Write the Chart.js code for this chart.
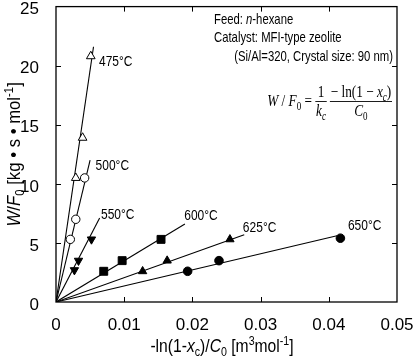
<!DOCTYPE html>
<html><head><meta charset="utf-8">
<script src="https://cdn.jsdelivr.net/npm/chart.js@4.4.1/dist/chart.umd.min.js"></script>
<style>html,body{margin:0;padding:0;background:#fff}#wrap{width:414px;height:360px}</style>
</head><body><div id="wrap"><canvas id="c" width="414" height="360"></canvas></div>
<script>
// ---- data ----
const temperatures = ['475°C', '500°C', '550°C', '600°C', '625°C', '650°C'];
const x475 = [0.0029, 0.0039, 0.0051];
const y475 = [10.5, 13.9, 20.8];
const x500 = [0.0021, 0.0029, 0.0042];
const y500 = [5.3, 7.0, 10.5];
const x550 = [0.0027, 0.0033, 0.0052];
const y550 = [2.7, 3.5, 5.3];
const x600 = [0.0070, 0.0097, 0.0154];
const y600 = [2.6, 3.5, 5.3];
const x625 = [0.0127, 0.0163, 0.0255];
const y625 = [2.6, 3.5, 5.3];
const x650 = [0.0193, 0.0239, 0.0417];
const y650 = [2.6, 3.5, 5.4];
// fitted lines through the origin: end points
const fitEndX = [0.0055, 0.0050, 0.0064, 0.0189, 0.0276, 0.0412];
const fitEndY = [21.6, 12.0, 7.1, 6.6, 5.7, 5.6];
const xTicks = [0, 0.01, 0.02, 0.03, 0.04, 0.05];
const yTicks = [0, 5, 10, 15, 20, 25];

// ---- presentation ----
const seriesX = [x475, x500, x550, x600, x625, x650];
const seriesY = [y475, y500, y550, y600, y625, y650];
const markerStyle = [
  {pointStyle: 'triangle', radius: 5.0, fill: '#fff', rot: 0},
  {pointStyle: 'circle', radius: 4.2, fill: '#fff', rot: 0},
  {pointStyle: 'triangle', radius: 4.8, fill: '#000', rot: 180},
  {pointStyle: 'rect', radius: 5.6, fill: '#000', rot: 0},
  {pointStyle: 'triangle', radius: 4.8, fill: '#000', rot: 0},
  {pointStyle: 'circle', radius: 4.3, fill: '#000', rot: 0}
];
// label anchors (data units): left edge, vertical middle
const labelAnchorX = [0.0063, 0.0058, 0.0066, 0.0188, 0.0274, 0.0428];
const labelAnchorY = [20.4, 11.6, 7.5, 7.4, 6.4, 6.6];

const SANS = '"Liberation Sans", Arial, sans-serif';
const SERIF = '"Liberation Serif", "Times New Roman", serif';

const datasets = [];
temperatures.forEach((t, i) => {
  datasets.push({
    label: t + ' fit',
    data: [{x: 0, y: 0}, {x: fitEndX[i], y: fitEndY[i]}],
    showLine: true, pointRadius: 0, borderColor: '#000', borderWidth: 1.1,
    order: 2
  });
  const m = markerStyle[i];
  datasets.push({
    label: t,
    data: seriesX[i].map((v, k) => ({x: v, y: seriesY[i][k]})),
    showLine: false,
    pointStyle: m.pointStyle, pointRadius: m.radius, pointRotation: m.rot,
    pointBackgroundColor: m.fill, pointBorderColor: '#000', pointBorderWidth: 1,
    order: 1
  });
});

function drawRich(ctx, segs, x, y, size, family, align, measureOnly) {
  const parts = segs.map(s => {
    const fs = (s.sub || s.sup) ? size * 0.68 : size;
    const font = (s.it ? 'italic ' : '') + fs + 'px ' + (s.fam || family);
    ctx.font = font;
    return {s, font, w: ctx.measureText(s.t).width + (s.gap || 0)};
  });
  const total = parts.reduce((a, p) => a + p.w, 0);
  if (measureOnly) return total;
  let cx = align === 'center' ? x - total / 2 : (align === 'right' ? x - total : x);
  ctx.textAlign = 'left';
  ctx.textBaseline = 'alphabetic';
  parts.forEach(p => {
    ctx.font = p.font;
    let dy = 0;
    if (p.s.sub) dy = size * 0.22;
    if (p.s.sup) dy = -size * 0.38;
    ctx.fillText(p.s.t, cx, y + dy);
    cx += p.w;
  });
  return total;
}
// condensed text: draws segments horizontally scaled, anchored at x
function drawNarrow(ctx, segs, x, y, size, family, align, scale) {
  const w = drawRich(ctx, segs, 0, 0, size, family, 'left', true) * scale;
  let left = align === 'center' ? x - w / 2 : (align === 'right' ? x - w : x);
  ctx.save();
  ctx.translate(left, y);
  ctx.scale(scale, 1);
  drawRich(ctx, segs, 0, 0, size, family, 'left');
  ctx.restore();
  return w;
}

const decor = {
  id: 'decor',
  afterDraw(chart) {
    const {ctx, chartArea: a, scales} = chart;
    const sx = scales.x, sy = scales.y;
    ctx.save();
    ctx.strokeStyle = '#000';
    ctx.fillStyle = '#000';
    ctx.lineWidth = 1.3;
    ctx.strokeRect(a.left, a.top, a.right - a.left, a.bottom - a.top);
    ctx.lineWidth = 1;
    const tl = 5;
    xTicks.slice(1, -1).forEach(v => {
      const px = Math.round(sx.getPixelForValue(v)) + 0.5;
      ctx.beginPath();
      ctx.moveTo(px, a.bottom); ctx.lineTo(px, a.bottom - tl);
      ctx.moveTo(px, a.top); ctx.lineTo(px, a.top + tl);
      ctx.stroke();
    });
    yTicks.slice(1, -1).forEach(v => {
      const py = Math.round(sy.getPixelForValue(v)) + 0.5;
      ctx.beginPath();
      ctx.moveTo(a.left, py); ctx.lineTo(a.left + tl, py);
      ctx.moveTo(a.right, py); ctx.lineTo(a.right - tl, py);
      ctx.stroke();
    });
    // temperature labels
    temperatures.forEach((t, i) => {
      drawNarrow(ctx, [{t}], sx.getPixelForValue(labelAnchorX[i]),
        sy.getPixelForValue(labelAnchorY[i]) + 5.5, 15, SANS, 'left', 0.8);
    });
    // axis titles
    drawNarrow(ctx, [
      {t: '-ln(1-'}, {t: 'x', it: true}, {t: 'c', sub: true}, {t: ')/'},
      {t: 'C', it: true}, {t: '0', sub: true}, {t: ' [m'}, {t: '3', sup: true},
      {t: 'mol'}, {t: '-1', sup: true}, {t: ']'}
    ], 222, 352, 18, SANS, 'center', 0.87);
    ctx.save();
    ctx.translate(20, (a.top + a.bottom) / 2);
    ctx.rotate(-Math.PI / 2);
    drawNarrow(ctx, [
      {t: 'W', it: true}, {t: '/'}, {t: 'F', it: true}, {t: '0', sub: true},
      {t: ' [kg \u2022 s \u2022 mol'}, {t: '-1', sup: true}, {t: ']'}
    ], 0, 0, 19, SANS, 'center', 0.88);
    ctx.restore();
    // annotation
    drawNarrow(ctx, [{t: 'Feed: '}, {t: 'n', it: true}, {t: '-hexane'}], 214, 24, 14.5, SANS, 'left', 0.78);
    drawNarrow(ctx, [{t: 'Catalyst: MFI-type zeolite'}], 214, 42, 14.5, SANS, 'left', 0.78);
    drawNarrow(ctx, [{t: '(Si/Al=320, Crystal size: 90 nm)'}], 393, 61, 14.5, SANS, 'right', 0.78);
    // equation (serif, condensed), right end at 392
    const fs = 17, esc = 0.78, bar = 101;
    const partA = [{t: 'W', it: true}, {t: ' / '}, {t: 'F', it: true}, {t: '0', sub: true}, {t: ' = '}];
    const num1 = [{t: '1'}], den1 = [{t: 'k', it: true}, {t: 'c', it: true, sub: true}];
    const num2 = [{t: '\u2212 ln(1 \u2212 '}, {t: 'x', it: true}, {t: 'c', it: true, sub: true}, {t: ')'}];
    const den2 = [{t: 'C', it: true}, {t: '0', sub: true}];
    const m = s => drawRich(ctx, s, 0, 0, fs, SERIF, 'left', true);
    const wA = m(partA);
    const w1 = Math.max(m(num1), m(den1)) + 2;
    const w2 = Math.max(m(num2), m(den2)) + 2;
    const total = wA + w1 + 4 + w2;
    ctx.save();
    ctx.translate(392 - total * esc, 0);
    ctx.scale(esc, 1);
    drawRich(ctx, partA, 0, bar + 5, fs, SERIF, 'left');
    let ex = wA;
    drawRich(ctx, num1, ex + w1 / 2, bar - 4, fs, SERIF, 'center');
    drawRich(ctx, den1, ex + w1 / 2, bar + 15, fs, SERIF, 'center');
    ctx.lineWidth = 1;
    ctx.beginPath(); ctx.moveTo(ex, bar + 0.5); ctx.lineTo(ex + w1, bar + 0.5); ctx.stroke();
    ex += w1 + 4;
    drawRich(ctx, num2, ex + w2 / 2, bar - 4, fs, SERIF, 'center');
    drawRich(ctx, den2, ex + w2 / 2, bar + 15, fs, SERIF, 'center');
    ctx.beginPath(); ctx.moveTo(ex, bar + 0.5); ctx.lineTo(ex + w2, bar + 0.5); ctx.stroke();
    ctx.restore();
    ctx.restore();
  }
};

new Chart(document.getElementById('c'), {
  type: 'scatter',
  data: {datasets},
  options: {
    responsive: false, animation: false, devicePixelRatio: 1,
    layout: {padding: {top: 5, right: 17, left: 0, bottom: 0}},
    plugins: {legend: {display: false}, tooltip: {enabled: false}},
    scales: {
      x: {
        type: 'linear', min: xTicks[0], max: xTicks[xTicks.length - 1],
        afterBuildTicks: s => { s.ticks = xTicks.map(v => ({value: v})); },
        afterFit: s => { s.height = 58; s.paddingLeft = 0; s.paddingRight = 0; },
        grid: {display: false}, border: {display: false},
        ticks: {
          color: '#000', padding: 5, font: {family: SANS, size: 17},
          callback: v => v === 0 ? '0' : v.toFixed(2), maxRotation: 0
        }
      },
      y: {
        type: 'linear', min: yTicks[0], max: yTicks[yTicks.length - 1],
        afterBuildTicks: s => { s.ticks = yTicks.map(v => ({value: v})); },
        afterFit: s => { s.width = 56; s.paddingTop = 0; s.paddingBottom = 0; },
        grid: {display: false}, border: {display: false},
        ticks: {color: '#000', padding: 9, labelOffset: 3, font: {family: SANS, size: 17}}
      }
    }
  },
  plugins: [decor]
});
</script>
</body></html>
